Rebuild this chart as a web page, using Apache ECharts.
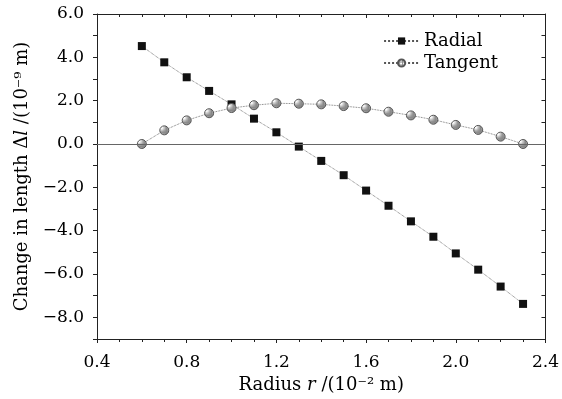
<!DOCTYPE html>
<html>
<head>
<meta charset="utf-8">
<script src="https://cdn.jsdelivr.net/npm/echarts@6/dist/echarts.min.js"></script>
<style>
  html, body { margin: 0; padding: 0; background: #fff; }
  #chart { width: 562px; height: 399px; }
</style>
</head>
<body>
<div id="chart"></div>
<script>
// data
const radius = [0.6, 0.7, 0.8, 0.9, 1.0, 1.1, 1.2, 1.3, 1.4, 1.5, 1.6, 1.7, 1.8, 1.9, 2.0, 2.1, 2.2, 2.3]
const radial = [4.52, 3.77, 3.08, 2.45, 1.83, 1.17, 0.54, -0.12, -0.78, -1.44, -2.15, -2.85, -3.57, -4.28, -5.05, -5.80, -6.58, -7.38]
const tangent = [0.0, 0.63, 1.09, 1.42, 1.66, 1.79, 1.88, 1.86, 1.83, 1.75, 1.65, 1.49, 1.32, 1.12, 0.88, 0.65, 0.34, 0.0]
const yLabels = [-8, -6, -4, -2, 0, 2, 4, 6]
const yTicks = [-9, -8, -7, -6, -5, -4, -3, -2, -1, 0, 1, 2, 3, 4, 5, 6]

const font = 'DejaVu Serif'
const axisColor = '#222'

const pair = arr => radius.map((x, i) => [x, arr[i]])
const fmt = v => (v < 0 ? '\u2212' : '') + Math.abs(v).toFixed(1)

// 小网格花纹，给 Tangent 的圆点用
const hatch = document.createElement('canvas')
hatch.width = 3
hatch.height = 3
const hctx = hatch.getContext('2d')
hctx.fillStyle = '#fff'
hctx.fillRect(0, 0, 3, 3)
hctx.fillStyle = '#888'
hctx.fillRect(0, 0, 3, 1)
hctx.fillRect(0, 0, 1, 3)

const chart = echarts.init(document.getElementById('chart'))

const lineStyle = { color: '#555', width: 0.8, type: 'dotted' }
const frameLine = { onZero: false, lineStyle: { color: axisColor, width: 1 } }

chart.setOption({
    animation: false,
    textStyle: { fontFamily: font, color: '#000' },
    grid: { left: 97, right: 16, top: 14, bottom: 60 },
    legend: {
        orient: 'vertical',
        right: 59,
        top: 27,
        itemWidth: 35,
        itemHeight: 9,
        itemGap: 4,
        textStyle: { fontFamily: font, fontSize: 18, color: '#000' },
        data: ['Radial', 'Tangent']
    },
    xAxis: [{
        type: 'value',
        min: 0.4,
        max: 2.4,
        interval: 0.4,
        position: 'bottom',
        name: 'Radius {i|r} /(10\u207B\u00B2 m)',
        nameLocation: 'middle',
        nameGap: 35,
        nameTextStyle: {
            fontFamily: font, fontSize: 18, color: '#000',
            rich: { i: { fontFamily: font, fontStyle: 'italic', fontSize: 18 } }
        },
        axisLine: frameLine,
        axisTick: { inside: false, length: 4, lineStyle: { color: axisColor } },
        minorTick: { show: true, splitNumber: 4, length: 3, lineStyle: { color: axisColor } },
        axisLabel: { fontFamily: font, fontSize: 17, color: '#000', margin: 15, formatter: v => v.toFixed(1) },
        splitLine: { show: false }
    }, {
        type: 'value',
        min: 0.4,
        max: 2.4,
        interval: 0.4,
        position: 'top',
        axisLine: frameLine,
        axisTick: { inside: true, length: 4, lineStyle: { color: axisColor } },
        minorTick: { show: true, splitNumber: 4, length: 3, lineStyle: { color: axisColor } },
        axisLabel: { show: false },
        splitLine: { show: false }
    }],
    yAxis: [{
        type: 'value',
        min: -9,
        max: 6,
        position: 'left',
        name: 'Change in length \u0394{i|l} /(10\u207B\u2079 m)',
        nameLocation: 'middle',
        nameGap: 66,
        nameTextStyle: {
            fontFamily: font, fontSize: 18, color: '#000',
            rich: { i: { fontFamily: font, fontStyle: 'italic', fontSize: 18 } }
        },
        axisLine: frameLine,
        axisTick: { inside: false, length: 4, customValues: yTicks, lineStyle: { color: axisColor } },
        axisLabel: { fontFamily: font, fontSize: 17, color: '#000', margin: 13, customValues: yLabels, formatter: fmt },
        splitLine: { show: false }
    }, {
        type: 'value',
        min: -9,
        max: 6,
        position: 'right',
        axisLine: frameLine,
        axisTick: { inside: true, length: 4, customValues: yTicks, lineStyle: { color: axisColor } },
        axisLabel: { show: false },
        splitLine: { show: false }
    }],
    series: [{
        name: 'Radial',
        type: 'line',
        data: pair(radial),
        symbol: 'rect',
        symbolSize: 8,
        itemStyle: { color: '#111' },
        lineStyle: lineStyle,
        markLine: {
            silent: true,
            symbol: 'none',
            label: { show: false },
            lineStyle: { color: '#666', width: 1, type: 'solid' },
            data: [{ yAxis: 0 }]
        }
    }, {
        name: 'Tangent',
        type: 'line',
        data: pair(tangent),
        symbol: 'circle',
        symbolSize: 9,
        itemStyle: { color: { image: hatch, repeat: 'repeat' }, borderColor: '#555', borderWidth: 1 },
        lineStyle: lineStyle
    }]
})
</script>
</body>
</html>
